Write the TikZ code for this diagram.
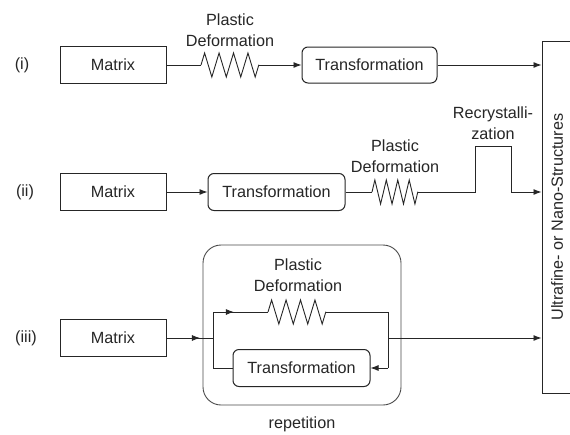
\documentclass[tikz,border=0pt]{standalone}
\usepackage{fontspec}
\setmainfont{Liberation Sans}
\usetikzlibrary{arrows.meta,decorations.pathmorphing,decorations.markings}
\begin{document}
\begin{tikzpicture}[x=1pt,y=-1pt,
  every node/.style={font=\fontsize{16.2}{19.5}\selectfont, text=black!85},
  box/.style={draw=black!85, line width=1pt, minimum height=37pt, inner sep=0pt},
  sqbox/.style={box, rectangle},
  rbox/.style={box, rounded corners=6pt},
  wire/.style={draw=black!85, line width=0.9pt},
  arr/.style={wire, -{Latex[length=8pt,width=6pt]}},
  springline/.style={wire, decorate, decoration={zigzag, segment length=#1, amplitude=12pt}},
  midarrow/.style={wire, postaction={decorate}, decoration={markings,
     mark=at position #1 with {\arrow{Latex[length=8pt,width=6pt]}}}},
  lbl/.style={align=center, inner sep=0pt},
]
\clip (0,0) rectangle (570,434);
\fill[white] (0,0) rectangle (570,434);

% final target box
\node[draw=black!85, line width=1pt, rectangle, minimum width=60pt, minimum height=352pt, inner sep=0pt] (end) at (572,217) {};
\node[rotate=90, inner sep=0pt] (endtxt) at (557,217) {Ultrafine- or Nano-Structures};

% row labels
\node (ri) at (22,65) {(i)};
\node (rii) at (25,192) {(ii)};
\node (riii) at (26,338) {(iii)};

% row (i)
\node[sqbox, minimum width=106pt] (m1) at (113,65) {Matrix};
\node[rbox, minimum width=135pt, minimum height=36pt] (t1) at (369.5,65) {Transformation};
\coordinate (sp1a) at (201,65);
\coordinate (sp1b) at (259,65);
\node[lbl] (pd1) at (230,30) {Plastic\\[1pt]Deformation};
\draw[wire] (m1.east) -- (sp1a);
\draw[springline=14.45pt] (sp1a) -- (sp1b);
\draw[arr] (sp1b) -- (t1.west);
\draw[arr] (t1.east) -- (end.west |- t1.east);

% row (ii)
\node[sqbox, minimum width=106pt] (m2) at (113,192) {Matrix};
\node[rbox, minimum width=137pt] (t2) at (276.5,192) {Transformation};
\coordinate (sp2a) at (372,192);
\coordinate (sp2b) at (418,192);
\node[lbl] (pd2) at (395,156) {Plastic\\[1pt]Deformation};
\coordinate (r1) at (475,192);
\coordinate (r2) at (475,146);
\coordinate (r3) at (511,146);
\coordinate (r4) at (511,192);
\node[lbl] (rc) at (493,123) {Recrystalli-\\[1pt]zation};
\draw[arr] (m2.east) -- (t2.west);
\draw[wire] (t2.east) -- (sp2a);
\draw[springline=11.45pt] (sp2a) -- (sp2b);
\draw[wire] (sp2b) -- (r1) -- (r2) -- (r3) -- (r4);
\draw[arr] (r4) -- (end.west |- r4);

% row (iii)
\node[draw=black!70, line width=0.9pt, rounded corners=18pt, minimum width=198pt, minimum height=160pt, inner sep=0pt] (rep) at (302,325) {};
\node (reptxt) at (302,424) {repetition};
\node[sqbox, minimum width=106pt] (m3) at (113,338) {Matrix};
\node[rbox, minimum width=137pt] (t3) at (301.5,368) {Transformation};
\coordinate (jl) at (213,338);
\coordinate (jlt) at (213,312);
\coordinate (jlb) at (213,368);
\coordinate (jr) at (388,338);
\coordinate (jrt) at (388,312);
\coordinate (jrb) at (388,368);
\coordinate (sp3a) at (268,312);
\coordinate (sp3b) at (326,312);
\node[lbl] (pd3) at (298,275) {Plastic\\[1pt]Deformation};
\draw[midarrow=0.72] (m3.east) -- (jl);
\draw[wire] (jlb) -- (jlt);
\draw[midarrow=0.38] (jlt) -- (sp3a);
\draw[springline=14.45pt] (sp3a) -- (sp3b);
\draw[wire] (sp3b) -- (jrt) -- (jrb);
\draw[arr] (jrb) -- (t3.east);
\draw[wire] (t3.west) -- (jlb);
\draw[arr] (jr) -- (end.west |- jr);
\end{tikzpicture}
\end{document}
